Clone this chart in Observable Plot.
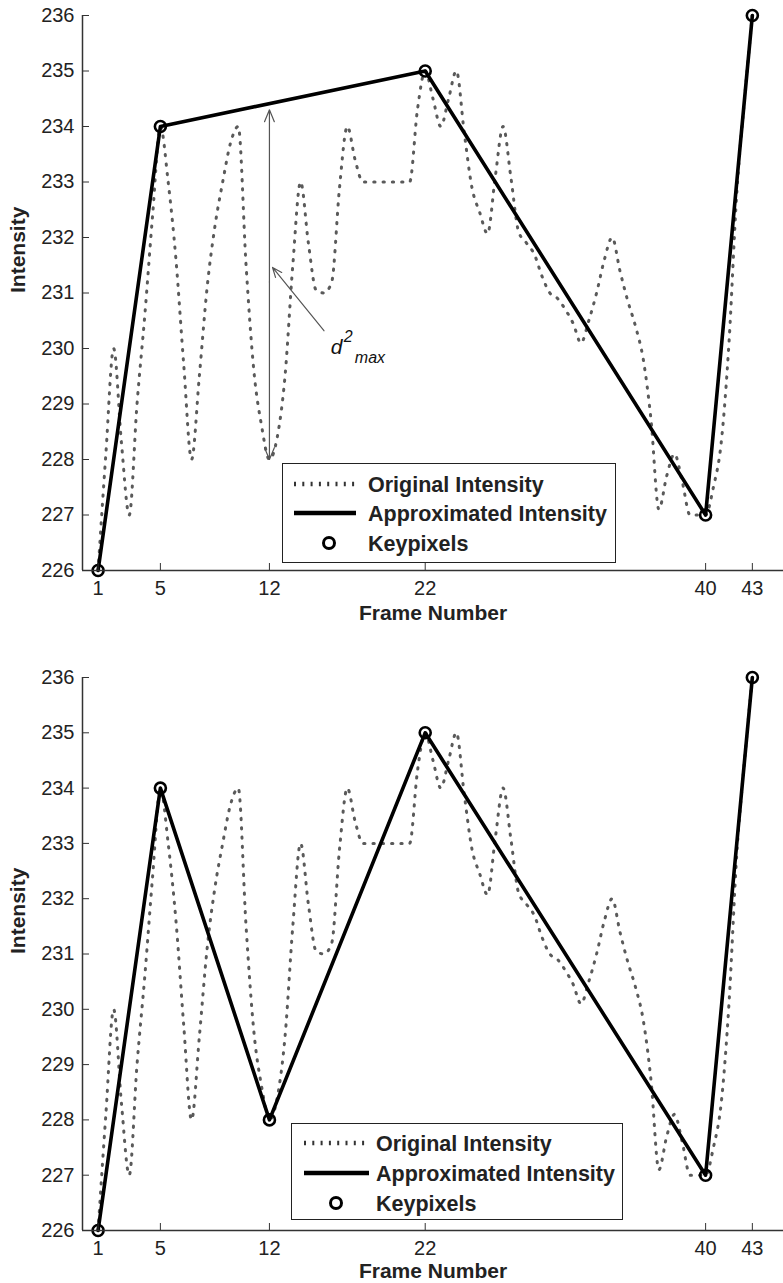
<!DOCTYPE html>
<html>
<head>
<meta charset="utf-8">
<script src="https://cdn.jsdelivr.net/npm/d3@7"></script>
<script src="https://cdn.jsdelivr.net/npm/@observablehq/plot@0.6"></script>
<style>
  html, body { margin: 0; padding: 0; background: #fff; }
  body { font-family: "Liberation Sans", Arial, sans-serif; color: #222; }
  #root { position: relative; width: 783px; height: 1283px; overflow: hidden; }
  .panel { position: absolute; left: 0; width: 783px; }
  .legend { position: absolute; background: #fff; border: 1.5px solid #222; box-sizing: border-box; }
  .legend svg { position: absolute; left: 0; top: 0; }
</style>
</head>
<body>
<div id="root">
  <div class="panel" id="p1" style="top:0px;height:640px"></div>
  <div class="panel" id="p2" style="top:640px;height:643px"></div>
</div>
<script>
// ---------- data ----------
const origFrame = [1,1.5,2,2.5,3,3.5,4,4.5,5,5.5,6,6.5,7,7.5,8,8.5,9,9.5,10,10.5,
  11,11.5,12,12.5,13,13.5,14,14.5,15,15.5,16,16.5,17,17.5,18,18.5,19,19.5,20,20.5,
  21,21.5,22,22.5,23,23.5,24,24.5,25,25.5,26,26.5,27,27.5,28,28.5,29,29.5,30,30.5,
  31,31.5,32,32.5,33,33.5,34,34.5,35,35.5,36,36.5,37,37.5,38,38.5,39,39.5,40,40.5,
  41,41.5,42,42.5,43];
const origValue = [226,228.1,230,228.3,227,229.0,230.6,232.4,234,233.0,231.6,229.7,228,229.5,231.1,232.2,233.0,233.7,234,231.5,
  229.6,228.6,228,228.4,229.5,231.5,233,231.9,231.05,231,231.2,232.9,234,233.4,233,233,233,233,233,233,
  233,234.3,235,234.5,234,234.5,235,233.9,232.9,232.45,232.07,233.1,234,233.08,232.1,231.9,231.7,231.3,231.0,230.9,
  230.7,230.45,230.1,230.5,231.0,231.6,232,231.4,230.86,230.4,229.8,228.7,227.1,227.7,228.1,227.6,227.0,227.0,227,227.5,
  228.3,230.1,232.8,234.5,236];

const keyFrameTop = [1, 5, 22, 40, 43];
const keyValueTop = [226, 234, 235, 227, 236];
const keyFrameBottom = [1, 5, 12, 22, 40, 43];
const keyValueBottom = [226, 234, 228, 235, 227, 236];

const xTicks = [1, 5, 12, 22, 40, 43];
const yTicks = [226, 227, 228, 229, 230, 231, 232, 233, 234, 235, 236];

const legendLabels = ["Original Intensity", "Approximated Intensity", "Keypixels"];

// d_max annotation (top panel): frame of maximum distance and its endpoints
const dmaxFrame = 12;
const dmaxLow = 228;
const dmaxHigh = 234.3;
const dmaxMid = 231.2;
const pointerFrom = [15.5, 230.32];
const pointerTo = [12.2, 231.46];
const dmaxLabelPos = [15.94, 230.02];

// ---------- drawing ----------
const FONT = '"Liberation Sans", Arial, sans-serif';

function panel(keyF, keyV, cfg) {
  const orig = origFrame.map((f, i) => ({frame: f, value: origValue[i]}));
  const keys = keyF.map((f, i) => ({frame: f, value: keyV[i]}));
  const marks = [
    Plot.line(orig, {x: "frame", y: "value", curve: "monotone-x", stroke: "#5a5a5a",
      strokeWidth: 3, strokeDasharray: "1.3,8"}),
    Plot.line(keys, {x: "frame", y: "value", stroke: "#000", strokeWidth: 3.6}),
    Plot.dot(keys, {x: "frame", y: "value", r: 5.5, stroke: "#000", strokeWidth: 2.6, fill: "none"}),
    Plot.ruleY([226], {stroke: "#333", strokeWidth: 1.5}),
    Plot.ruleX([0], {y1: 226, y2: 236, stroke: "#333", strokeWidth: 1.5}),
    Plot.axisX({ticks: xTicks, tickSize: -7, tickPadding: 17, tickFormat: d => String(d),
      fontSize: 20, label: null, stroke: "#333"}),
    Plot.axisY({ticks: yTicks, tickSize: -7, tickPadding: 15, tickFormat: d => String(d),
      fontSize: 20, label: null, stroke: "#333"}),
    Plot.text(["Frame Number"], {text: d => d, frameAnchor: "bottom", dy: cfg.xLabelDy,
      fontSize: 21, fontWeight: "bold", lineAnchor: "middle", fill: "#222"}),
    Plot.text(["Intensity"], {text: d => d, frameAnchor: "left", dx: -64, rotate: -90,
      fontSize: 21, fontWeight: "bold", lineAnchor: "middle", fill: "#222"})
  ];
  if (cfg.annotate) {
    marks.push(
      Plot.arrow([0], {x1: () => dmaxFrame, y1: () => dmaxMid, x2: () => dmaxFrame, y2: () => dmaxHigh,
        stroke: "#555", strokeWidth: 1.2, headLength: 16, headAngle: 45}),
      Plot.arrow([0], {x1: () => dmaxFrame, y1: () => dmaxMid, x2: () => dmaxFrame, y2: () => dmaxLow,
        stroke: "#555", strokeWidth: 1.2, headLength: 16, headAngle: 45}),
      Plot.arrow([0], {x1: () => pointerFrom[0], y1: () => pointerFrom[1], x2: () => pointerTo[0], y2: () => pointerTo[1],
        stroke: "#555", strokeWidth: 1.2, headLength: 13, headAngle: 45}),
      Plot.text(["d"], {text: d => d, x: () => dmaxLabelPos[0], y: () => dmaxLabelPos[1], textAnchor: "start",
        fontSize: 21, fontStyle: "italic", fill: "#111", lineAnchor: "middle"}),
      Plot.text(["2"], {text: d => d, x: () => dmaxLabelPos[0], y: () => dmaxLabelPos[1], textAnchor: "start",
        dx: 13, dy: -11, fontSize: 16, fontStyle: "italic", fill: "#111", lineAnchor: "middle"}),
      Plot.text(["max"], {text: d => d, x: () => dmaxLabelPos[0], y: () => dmaxLabelPos[1], textAnchor: "start",
        dx: 24, dy: 10, fontSize: 16, fontStyle: "italic", fill: "#111", lineAnchor: "middle"})
    );
  }
  return Plot.plot({
    width: 783,
    height: cfg.height,
    marginLeft: 82,
    marginRight: 0,
    marginTop: cfg.marginTop,
    marginBottom: cfg.marginBottom,
    style: {fontFamily: FONT, fontSize: "20px", color: "#222", background: "#fff", overflow: "visible"},
    x: {domain: [0, 45]},
    y: {domain: [226, 236]},
    marks
  });
}

function legend(box) {
  const div = document.createElement("div");
  div.className = "legend";
  div.style.left = box.left + "px";
  div.style.top = box.top + "px";
  div.style.width = box.width + "px";
  div.style.height = box.height + "px";
  const ns = "http://www.w3.org/2000/svg";
  const svg = document.createElementNS(ns, "svg");
  svg.setAttribute("width", box.width);
  svg.setAttribute("height", box.height);
  const mk = (tag, attrs) => { const e = document.createElementNS(ns, tag); for (const k in attrs) e.setAttribute(k, attrs[k]); svg.appendChild(e); return e; };
  mk("line", {x1: box.s0, x2: box.s1, y1: box.rows[0], y2: box.rows[0], stroke: "#333", "stroke-width": 4.5, "stroke-dasharray": "2,6.3"});
  mk("line", {x1: box.s0, x2: box.s1, y1: box.rows[1], y2: box.rows[1], stroke: "#000", "stroke-width": 4.5});
  mk("circle", {cx: box.cx, cy: box.rows[2], r: 5.5, fill: "none", stroke: "#000", "stroke-width": 3});
  legendLabels.forEach((t, i) => {
    const tx = mk("text", {x: box.tx, y: box.rows[i], dy: "0.35em", "font-size": 21.5, "font-weight": "bold",
      "font-family": FONT, fill: "#222"});
    tx.textContent = t;
  });
  div.appendChild(svg);
  return div;
}

const p1 = document.getElementById("p1");
p1.appendChild(panel(keyFrameTop, keyValueTop, {height: 640, marginTop: 15, marginBottom: 70, xLabelDy: 43, annotate: true}));
p1.appendChild(legend({left: 282, top: 463, width: 334, height: 100, rows: [20, 49, 79], s0: 11, s1: 73, cx: 46, tx: 85}));

const p2 = document.getElementById("p2");
p2.appendChild(panel(keyFrameBottom, keyValueBottom, {height: 643, marginTop: 37, marginBottom: 53, xLabelDy: 41, annotate: false}));
p2.appendChild(legend({left: 291, top: 483, width: 332, height: 97, rows: [19, 49, 79], s0: 12, s1: 77, cx: 44, tx: 84}));
</script>
</body>
</html>
